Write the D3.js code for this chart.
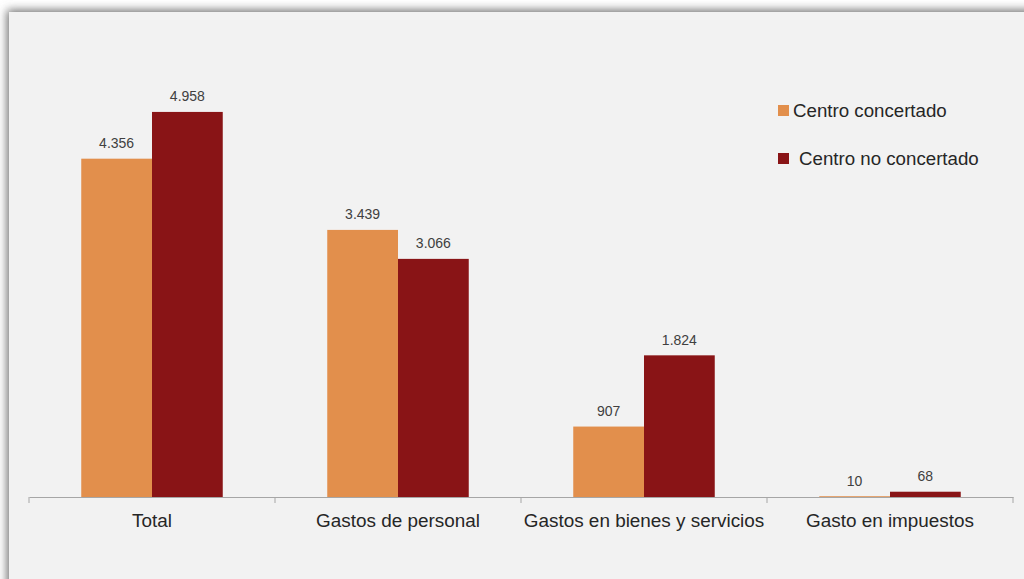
<!DOCTYPE html>
<html>
<head>
<meta charset="utf-8">
<script src="https://cdn.jsdelivr.net/npm/d3@7/dist/d3.min.js"></script>
<style>
  html, body { margin: 0; padding: 0; background: #ffffff; }
  svg { display: block; }
</style>
</head>
<body>
<script>
// Gasto medio por categoría y tipo de centro
const categories = ["Total", "Gastos de personal", "Gastos en bienes y servicios", "Gasto en impuestos"];
const seriesNames = ["Centro concertado", "Centro no concertado"];
const concertado = [4356, 3439, 907, 10];
const noConcertado = [4958, 3066, 1824, 68];
const valueLabels = [
  ["4.356", "3.439", "907", "10"],
  ["4.958", "3.066", "1.824", "68"]
];
const colors = ["#e28f4c", "#891416"];

const W = 1024, H = 579;
const FONT = "Liberation Sans, Arial, sans-serif";
const svg = d3.select("body").append("svg").attr("width", W).attr("height", H);

// Panel with soft shadow on the top/left edges
const defs = svg.append("defs");
const f = defs.append("filter").attr("id", "shadow")
  .attr("x", "-10%").attr("y", "-10%").attr("width", "130%").attr("height", "130%");
f.append("feGaussianBlur").attr("stdDeviation", 5);
svg.append("rect").attr("x", 7).attr("y", 10).attr("width", 1100).attr("height", 700)
  .attr("fill", "#6e6e6e").attr("filter", "url(#shadow)");
svg.append("rect").attr("x", 9).attr("y", 12).attr("width", 1100).attr("height", 700)
  .attr("fill", "#f2f2f2");

const plot = { left: 29, right: 1013, top: 31, bottom: 497 };

const x0 = d3.scaleBand().domain(categories).range([plot.left, plot.right]).paddingInner(0).paddingOuter(0);
const x1 = d3.scaleBand().domain(seriesNames)
  .range([0, x0.bandwidth()]).paddingInner(0).paddingOuter(0.7385);
const y = d3.scaleLinear().domain([0, 6000]).range([plot.bottom, plot.top]);

const series = [concertado, noConcertado];

series.forEach((vals, si) => {
  const g = svg.append("g");
  g.selectAll("rect").data(categories).join("rect")
    .attr("x", d => x0(d) + x1(seriesNames[si]))
    .attr("y", (d, i) => y(vals[i]))
    .attr("width", x1.bandwidth())
    .attr("height", (d, i) => y(0) - y(vals[i]))
    .attr("fill", colors[si]);
  g.selectAll("text").data(categories).join("text")
    .attr("x", d => x0(d) + x1(seriesNames[si]) + x1.bandwidth() / 2)
    .attr("y", (d, i) => y(vals[i]) - 10.5)
    .attr("text-anchor", "middle")
    .attr("font-family", FONT)
    .attr("font-size", 14)
    .attr("fill", "#404040")
    .text((d, i) => valueLabels[si][i]);
});

// Category axis
const axis = d3.axisBottom(x0).tickSize(0).tickPadding(0);
const ax = svg.append("g").attr("transform", `translate(0,${plot.bottom})`).call(axis);
ax.select(".domain").attr("stroke", "#a6a6a6").attr("stroke-width", 1.2);
ax.selectAll(".tick text")
  .attr("y", 30).attr("dy", 0)
  .attr("font-family", FONT)
  .attr("font-size", 18.9)
  .attr("fill", "#262626");
// Separators between categories
const bounds = categories.map(c => x0(c)).concat([plot.right]);
svg.append("g").selectAll("line").data(bounds).join("line")
  .attr("x1", d => d).attr("x2", d => d)
  .attr("y1", plot.bottom).attr("y2", plot.bottom + 6)
  .attr("stroke", "#a6a6a6").attr("stroke-width", 1);

// Legend
const legend = svg.append("g");
const legendY = [105, 153];
const legendTextX = [793, 799];
seriesNames.forEach((name, i) => {
  legend.append("rect").attr("x", 778).attr("y", legendY[i]).attr("width", 11).attr("height", 11)
    .attr("fill", colors[i]);
  legend.append("text").attr("x", legendTextX[i]).attr("y", legendY[i] + 11.8)
    .attr("font-family", FONT)
    .attr("font-size", 18.7)
    .attr("fill", "#262626")
    .text(name);
});
</script>
</body>
</html>
